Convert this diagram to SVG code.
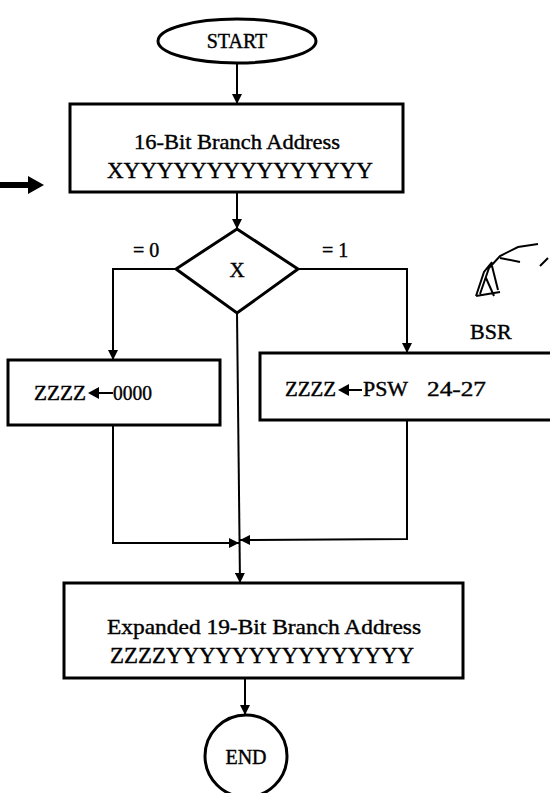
<svg xmlns="http://www.w3.org/2000/svg" width="550" height="793" viewBox="0 0 550 793">
<style>
.s{fill:none;stroke:#000;stroke-width:3}
.c{fill:none;stroke:#000;stroke-width:2}
.t{font-family:"Liberation Serif","Times New Roman",serif;fill:#000;stroke:#000;stroke-width:0.4}
</style>
<defs>
<marker id="ah" viewBox="0 0 10 10" refX="10" refY="5" markerWidth="10" markerHeight="10" markerUnits="userSpaceOnUse" orient="auto">
<path d="M0,0 L10,5 L0,10 Z" fill="#000"/>
</marker>
</defs>
<rect width="550" height="793" fill="#fff"/>
<g id="start">
<ellipse class="s" cx="237" cy="41" rx="79" ry="22"/>
<text class="t" x="237" y="48" font-size="20" text-anchor="middle">START</text>
</g>
<g id="box1">
<rect class="s" x="70" y="104" width="333" height="88"/>
<text class="t" x="237" y="149" font-size="22" text-anchor="middle" textLength="206" lengthAdjust="spacingAndGlyphs">16-Bit Branch Address</text>
<text class="t" x="240" y="178" font-size="23" text-anchor="middle" textLength="266" lengthAdjust="spacingAndGlyphs">XYYYYYYYYYYYYYYY</text>
</g>
<g id="input-arrow">
<line x1="0" y1="185" x2="30" y2="185" stroke="#000" stroke-width="6"/>
<polygon points="28,176 44,185 28,194" fill="#000"/>
</g>
<g id="decision">
<polygon class="s" points="237,229 298,269 237,313 176,269"/>
<text class="t" x="237" y="277" font-size="21" text-anchor="middle">X</text>
</g>
<g id="box-left">
<rect class="s" x="8" y="360" width="212" height="65"/>
<text class="t" x="34" y="400" font-size="20" textLength="52" lengthAdjust="spacingAndGlyphs">ZZZZ</text>
<line x1="113" y1="393" x2="96" y2="393" stroke="#000" stroke-width="2"/>
<polygon points="88,393 99,387 99,399" fill="#000"/>
<text class="t" x="113" y="400" font-size="20" textLength="39" lengthAdjust="spacingAndGlyphs">0000</text>
</g>
<g id="box-right">
<rect class="s" x="260" y="353" width="292" height="67"/>
<text class="t" x="285" y="396" font-size="20" textLength="51" lengthAdjust="spacingAndGlyphs">ZZZZ</text>
<line x1="362" y1="390" x2="346" y2="390" stroke="#000" stroke-width="2"/>
<polygon points="338,390 349,384 349,396" fill="#000"/>
<text class="t" x="363" y="396" font-size="20" textLength="45" lengthAdjust="spacingAndGlyphs">PSW</text>
<text class="t" x="427" y="396" font-size="20" textLength="59" lengthAdjust="spacingAndGlyphs">24-27</text>
</g>
<g id="box-final">
<rect class="s" x="64" y="583" width="399" height="95"/>
<text class="t" x="264" y="634" font-size="22" text-anchor="middle" textLength="314" lengthAdjust="spacingAndGlyphs">Expanded 19-Bit Branch Address</text>
<text class="t" x="262" y="663" font-size="23" text-anchor="middle" textLength="304" lengthAdjust="spacingAndGlyphs">ZZZZYYYYYYYYYYYYYYY</text>
</g>
<g id="end">
<circle class="s" cx="246" cy="756" r="41"/>
<text class="t" x="246" y="764" font-size="20" text-anchor="middle">END</text>
</g>
<g id="labels">
<text class="t" x="133" y="257" font-size="20">= 0</text>
<text class="t" x="322" y="257" font-size="20">= 1</text>
<text class="t" x="470" y="339" font-size="22">BSR</text>
<path d="M476,296 L484,272 L492,262 M480,294 L489,268 L500,256 L518,247 L538,244 M476,296 L500,292 M486,278 L494,296 M492,266 L498,290 M500,258 L520,262 M540,266 L548,258" fill="none" stroke="#000" stroke-width="2"/>
</g>
<g id="connectors">
<line class="c" x1="237" y1="63" x2="237" y2="104" marker-end="url(#ah)"/>
<line class="c" x1="237" y1="192" x2="237" y2="229" marker-end="url(#ah)"/>
<polyline class="c" points="176,269 113,269 113,360" marker-end="url(#ah)"/>
<polyline class="c" points="298,269 407,269 407,353" marker-end="url(#ah)"/>
<line class="c" x1="237" y1="313" x2="240" y2="583" marker-end="url(#ah)"/>
<polyline class="c" points="113,425 113,543 239,543" marker-end="url(#ah)"/>
<polyline class="c" points="407,420 407,539 240,540" marker-end="url(#ah)"/>
<line class="c" x1="245" y1="678" x2="245" y2="715" marker-end="url(#ah)"/>
</g>
</svg>
